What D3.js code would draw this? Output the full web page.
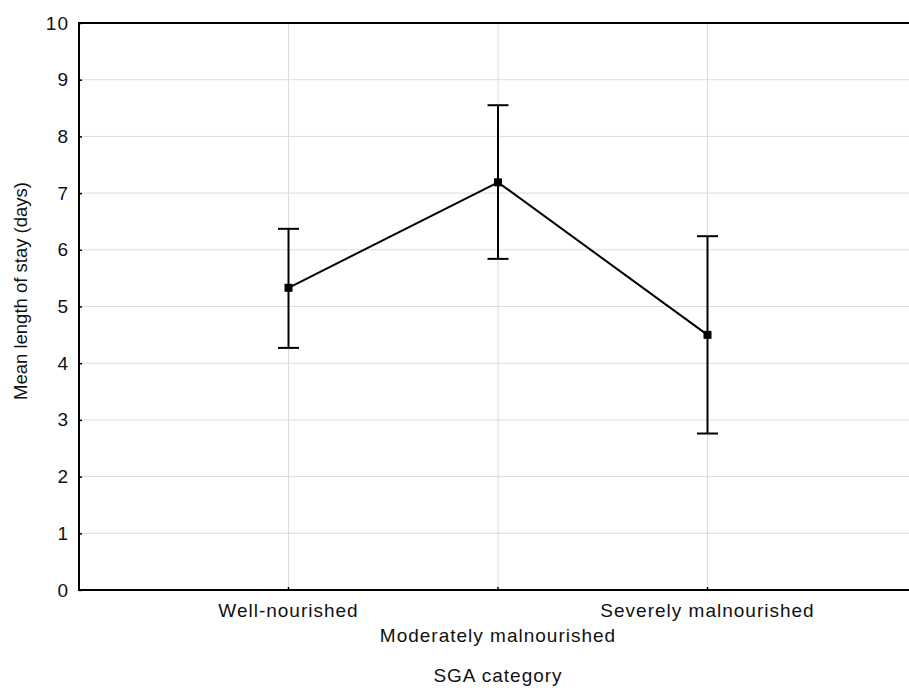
<!DOCTYPE html>
<html>
<head>
<meta charset="utf-8">
<script src="https://cdn.jsdelivr.net/npm/d3@7"></script>
<style>
  body { margin: 0; background: #fff; }
  svg { display: block; font-family: "Liberation Sans", Arial, sans-serif; }
</style>
</head>
<body>
<svg id="chart" width="909" height="688"></svg>
<script>
// data
const categories = ["Well-nourished", "Moderately malnourished", "Severely malnourished"];
const means = [5.33, 7.19, 4.50];
const upper = [6.37, 8.55, 6.24];
const lower = [4.27, 5.84, 2.76];
const yTicks = [0, 1, 2, 3, 4, 5, 6, 7, 8, 9, 10];

const LEFT = 79, TOP = 23, BOTTOM = 590, RIGHT = 917;
const CAP = 10.5;
const MARKER = 8;
const GRID_COLOR = "#dcdcdc";

const svg = d3.select("#chart");

const x = d3.scaleLinear().domain([0, categories.length + 1]).range([LEFT, RIGHT]);
const y = d3.scaleLinear().domain([0, 10]).range([BOTTOM, TOP]);
const xPos = i => x(i + 1);

// grid
svg.append("g")
    .selectAll("line.hgrid")
    .data(yTicks.slice(1, -1))
    .join("line")
    .attr("x1", LEFT).attr("x2", RIGHT)
    .attr("y1", d => y(d)).attr("y2", d => y(d))
    .attr("stroke", GRID_COLOR).attr("stroke-width", 1);

svg.append("g")
    .selectAll("line.vgrid")
    .data(categories)
    .join("line")
    .attr("x1", (d, i) => xPos(i)).attr("x2", (d, i) => xPos(i))
    .attr("y1", TOP).attr("y2", BOTTOM)
    .attr("stroke", GRID_COLOR).attr("stroke-width", 1);

// y axis
const yAxis = svg.append("g")
    .attr("transform", `translate(${LEFT},0)`)
    .call(d3.axisLeft(y).tickValues(yTicks).tickSize(-3).tickPadding(10));
yAxis.select(".domain").remove();
yAxis.selectAll("line").attr("stroke", "#000").attr("stroke-width", 1.5);
yAxis.selectAll("text")
    .attr("font-size", 19)
    .attr("letter-spacing", 1)
    .attr("font-family", "Liberation Sans, Arial, sans-serif")
    .attr("fill", "#111");

// x axis ticks (inward)
svg.append("g")
    .selectAll("line.xtick")
    .data(categories)
    .join("line")
    .attr("x1", (d, i) => xPos(i)).attr("x2", (d, i) => xPos(i))
    .attr("y1", BOTTOM).attr("y2", BOTTOM - 3)
    .attr("stroke", "#000").attr("stroke-width", 1.5);

// x labels, staggered
svg.append("g")
    .selectAll("text")
    .data(categories)
    .join("text")
    .attr("x", (d, i) => xPos(i))
    .attr("y", (d, i) => i % 2 === 0 ? 617 : 642)
    .attr("text-anchor", "middle")
    .attr("font-size", 19)
    .attr("letter-spacing", 1)
    .attr("fill", "#111")
    .text(d => d);

// frame
svg.append("path")
    .attr("d", `M${RIGHT},${TOP}H${LEFT}V${BOTTOM}H${RIGHT}`)
    .attr("fill", "none")
    .attr("stroke", "#000")
    .attr("stroke-width", 2);

// titles
svg.append("text")
    .attr("x", (LEFT + RIGHT) / 2)
    .attr("y", 682)
    .attr("text-anchor", "middle")
    .attr("font-size", 19)
    .attr("letter-spacing", 1)
    .attr("fill", "#111")
    .text("SGA category");

svg.append("text")
    .attr("transform", `translate(27,291) rotate(-90)`)
    .attr("text-anchor", "middle")
    .attr("font-size", 18.5)
    .attr("fill", "#111")
    .text("Mean length of stay (days)");

// error bars
const bars = svg.append("g").attr("stroke", "#000").attr("stroke-width", 2);
categories.forEach((c, i) => {
    const cx = xPos(i);
    bars.append("line").attr("x1", cx).attr("x2", cx).attr("y1", y(lower[i])).attr("y2", y(upper[i]));
    bars.append("line").attr("x1", cx - CAP).attr("x2", cx + CAP).attr("y1", y(upper[i])).attr("y2", y(upper[i]));
    bars.append("line").attr("x1", cx - CAP).attr("x2", cx + CAP).attr("y1", y(lower[i])).attr("y2", y(lower[i]));
});

// mean line
svg.append("path")
    .datum(means)
    .attr("d", d3.line().x((d, i) => xPos(i)).y(d => y(d)))
    .attr("fill", "none")
    .attr("stroke", "#000")
    .attr("stroke-width", 2);

svg.append("g")
    .selectAll("rect")
    .data(means)
    .join("rect")
    .attr("x", (d, i) => xPos(i) - MARKER / 2)
    .attr("y", d => y(d) - MARKER / 2)
    .attr("width", MARKER)
    .attr("height", MARKER)
    .attr("fill", "#000");
</script>
</body>
</html>
